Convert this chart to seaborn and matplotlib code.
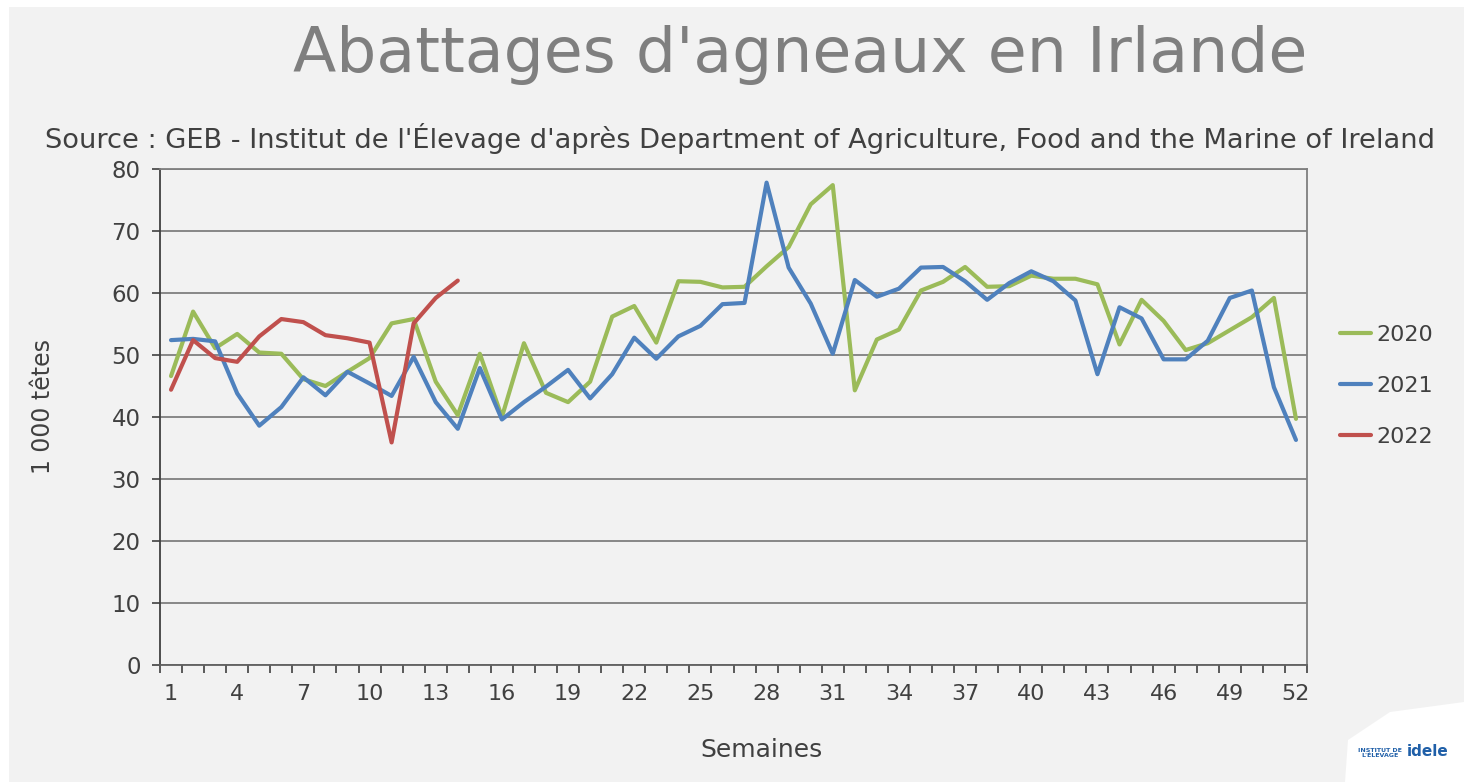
import matplotlib
matplotlib.use("Agg")
import matplotlib.pyplot as plt
import seaborn as sns
import pandas as pd
import numpy as np
from matplotlib.patches import Rectangle, Polygon

# ---- data ----
weeks = list(range(1, 53))
v2020 = [46.6, 57.0, 51.1, 53.4, 50.4, 50.2, 46.1, 45.0, 47.3, 49.5,
         55.1, 55.8, 45.7, 40.3, 50.2, 40.0, 51.9, 43.9, 42.4, 45.7,
         56.2, 57.9, 52.0, 61.9, 61.8, 60.9, 61.0, 64.3, 67.4, 74.3,
         77.4, 44.3, 52.5, 54.1, 60.4, 61.8, 64.2, 61.0, 61.1, 62.8,
         62.3, 62.3, 61.4, 51.7, 58.9, 55.5, 50.8, 51.9, 54.0, 56.1,
         59.2, 39.7]
v2021 = [52.4, 52.6, 52.2, 43.8, 38.6, 41.6, 46.4, 43.5, 47.3, 45.4,
         43.4, 49.7, 42.4, 38.1, 47.9, 39.6, 42.4, 44.9, 47.6, 43.0,
         46.9, 52.8, 49.4, 53.0, 54.7, 58.2, 58.4, 77.8, 64.1, 58.3,
         50.2, 62.1, 59.4, 60.7, 64.1, 64.2, 61.9, 58.9, 61.6, 63.5,
         61.9, 58.8, 46.9, 57.7, 55.9, 49.3, 49.3, 52.3, 59.2, 60.4,
         44.8, 36.3]
weeks_2022 = list(range(1, 15))
v2022 = [44.4, 52.4, 49.5, 48.9, 53.0, 55.8, 55.3, 53.2, 52.7, 52.0,
         35.9, 55.1, 59.2, 62.0]
years = ["2020", "2021", "2022"]
colors = ["#9bbb59", "#4f81bd", "#c0504d"]
xtick_labels = list(range(1, 53, 3))
yticks = list(range(0, 81, 10))

title = "Abattages d'agneaux en Irlande"
subtitle = "Source : GEB - Institut de l'Élevage d'après Department of Agriculture, Food and the Marine of Ireland"
ylabel = "1 000 têtes"
xlabel = "Semaines"

df = pd.concat([
    pd.DataFrame({"Semaine": weeks, "val": v2020, "Année": "2020"}),
    pd.DataFrame({"Semaine": weeks, "val": v2021, "Année": "2021"}),
    pd.DataFrame({"Semaine": weeks_2022, "val": v2022, "Année": "2022"}),
], ignore_index=True)

# ---- style ----
sns.set_theme(style="white")
plt.rcParams["font.family"] = ["DejaVu Sans"]

W, H = 1464, 782
fig = plt.figure(figsize=(W / 100, H / 100), dpi=100, facecolor="white")
fig.patches.append(Rectangle((9 / W, 0), 1, 1 - 7 / H, transform=fig.transFigure,
                             facecolor="#f2f2f2", edgecolor="none", zorder=-10))
# white logo card at bottom right
fig.patches.append(Polygon([(1345 / W, 1 - 782 / H), (1348 / W, 1 - 740 / H), (1390 / W, 1 - 712 / H),
                            (1464 / W, 1 - 702 / H), (1464 / W, 0)],
                           closed=True, transform=fig.transFigure, facecolor="white",
                           edgecolor="none", zorder=-9))
fig.text(1428 / W, 1 - 752 / H, "idele", ha="center", va="center", fontsize=11,
         fontweight="bold", color="#1f5fa8")
fig.text(1380 / W, 1 - 753 / H, "INSTITUT DE\nL'ÉLEVAGE", ha="center", va="center",
         fontsize=4.5, fontweight="bold", color="#1f5fa8", linespacing=1.0)

ax = fig.add_axes([160 / W, 1 - 665 / H, (1307 - 160) / W, (665 - 169) / H])
ax.set_facecolor("#f2f2f2")

sns.lineplot(data=df, x="Semaine", y="val", hue="Année",
             palette=dict(zip(years, colors)), linewidth=3, ax=ax, legend=True)

ax.set_xlim(0.5, 52.5)
ax.set_ylim(0, 80)
ax.set_yticks(yticks)
ax.set_xticks(xtick_labels)
ax.set_xticklabels([str(v) for v in xtick_labels])
ax.set_xticks(np.arange(0.5, 53, 1), minor=True)
ax.tick_params(axis="x", which="major", length=0, labelsize=16, colors="#404040", pad=14)
ax.tick_params(axis="x", which="minor", length=6, width=1.2, color="#404040", direction="out", bottom=True)
ax.tick_params(axis="y", which="major", length=6, width=1.2, color="#404040", labelsize=16.5,
               labelcolor="#404040", left=True, pad=8)
ax.yaxis.grid(True, color="#7f7f7f", linewidth=1.3)
ax.set_axisbelow(True)
for s in ax.spines.values():
    s.set_color("#7f7f7f")
    s.set_linewidth(1.3)
ax.spines["left"].set_color("#404040")
ax.spines["bottom"].set_color("#606060")
ax.set_xlabel("")
ax.set_ylabel("")

handles, labels = ax.get_legend_handles_labels()
ax.legend(handles, labels, loc="center left", bbox_to_anchor=(1320 / W, 1 - 386 / H),
          bbox_transform=fig.transFigure, frameon=False, handlelength=1.4,
          handletextpad=0.25, fontsize=16, labelspacing=1.4, labelcolor="#404040")

fig.text(800 / W, 1 - 55 / H, title, ha="center", va="center", fontsize=45.5, color="#7f7f7f")
fig.text(740 / W, 1 - 138 / H, subtitle, ha="center", va="center", fontsize=19.6, color="#404040")
fig.text(43 / W, 1 - 407 / H, ylabel, ha="center", va="center", rotation=90, fontsize=17, color="#404040")
fig.text(762 / W, 1 - 750 / H, xlabel, ha="center", va="center", fontsize=18, color="#404040")

fig.savefig("out.png", dpi=100, facecolor=fig.get_facecolor())
